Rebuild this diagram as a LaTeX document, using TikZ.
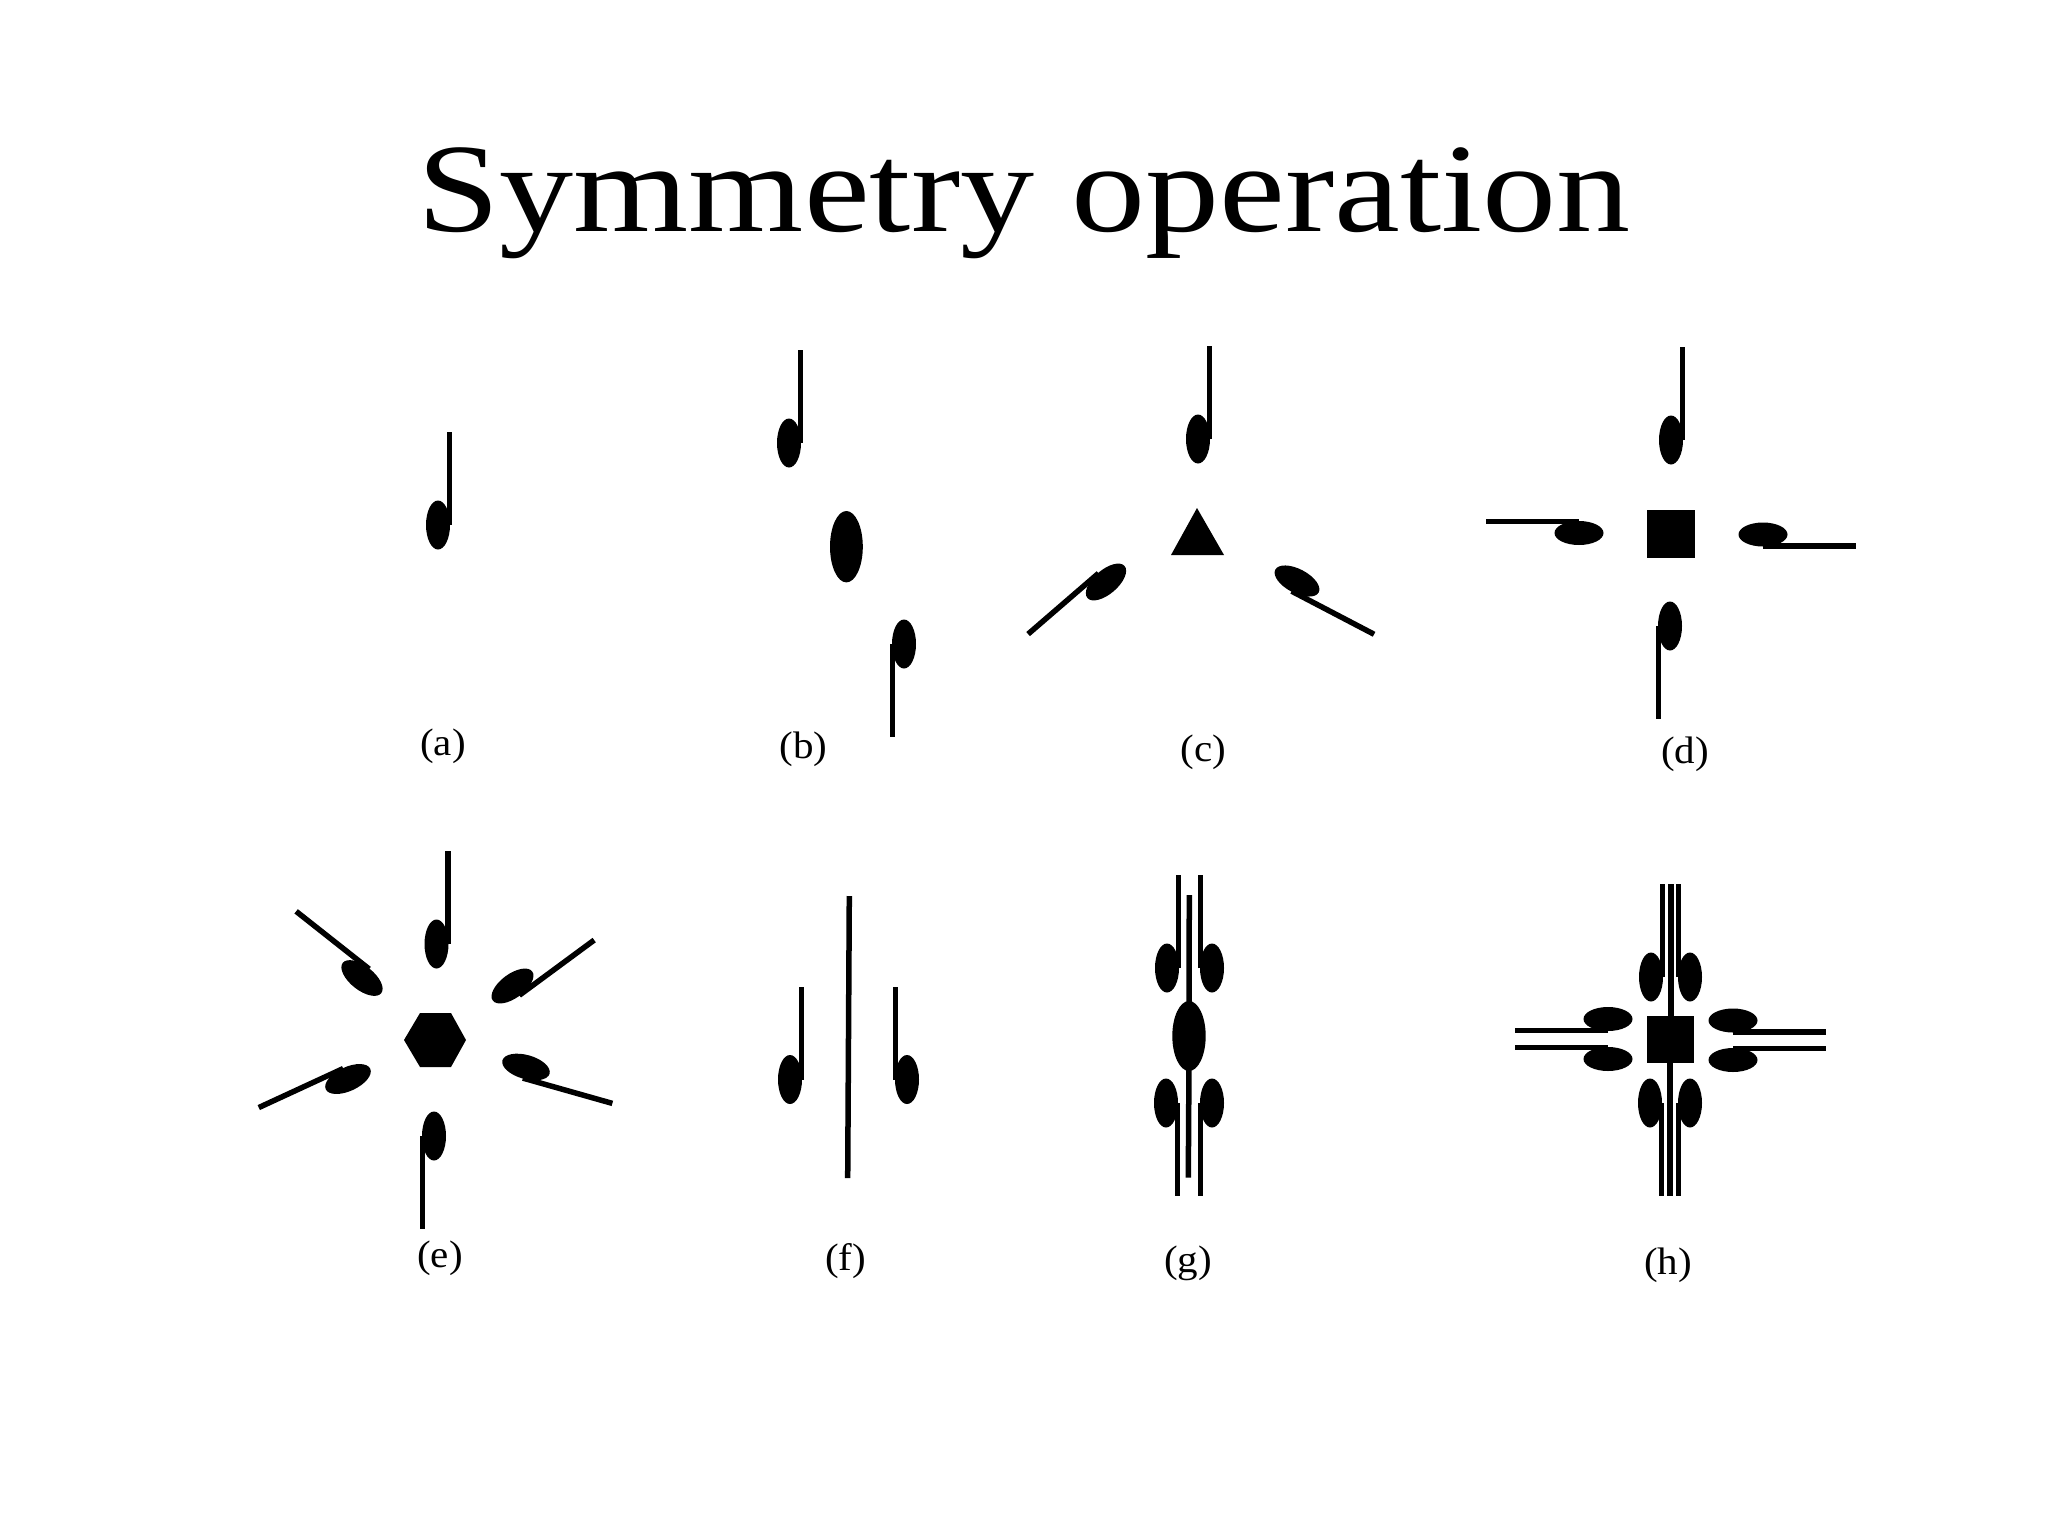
\documentclass[tikz,border=0pt]{standalone}
\usepackage{fontspec}
\setmainfont{Liberation Serif}
\begin{document}
\begin{tikzpicture}[x=0.01cm, y=-0.01cm,
    stem/.style={line width=0.055cm},
    label/.style={xscale=1.07, font=\fontsize{10.9}{12}\selectfont}]
\useasboundingbox (0,0) rectangle (2048,1536);
\node[anchor=base, xscale=1.17, font=\fontsize{36}{40}\selectfont] (title) at (1024,231) {Symmetry operation};
% head x, head y, rotation, mirror
\foreach \cx/\cy/\ang/\flip in {
  438/525/0/1,
  789/443/0/1, 904/644/180/1,
  1198/439/0/1, 1106/582/130.8/1, 1297/581/-117.6/1,
  1671/440/0/1, 1579/533/90/1, 1763/534.5/-90/1, 1670/626/180/1,
  436.5/944/0/1, 512.5/986/-53.6/1, 526/1067/-105.8/1, 434/1136/180/1, 348/1079/114.8/1, 362/978/51.7/1,
  790/1079.5/0/1, 907/1079.5/0/-1,
  1167/968/0/1, 1212/968/0/-1, 1166/1103/180/-1, 1212/1103/180/1,
  1651/977/0/1, 1690/977/0/-1, 1650/1103/180/-1, 1690/1103/180/1,
  1608/1019/90/-1, 1608/1059/90/1, 1733/1020.5/-90/1, 1733/1060/-90/-1}
{
\begin{scope}[shift={(\cx,\cy)}, rotate=\ang, xscale=\flip]
\fill (0,0) ellipse [x radius=12, y radius=24.5];
\draw[stem] (11.5,0)--(11.5,-93);
\end{scope}
}
% rotation centres
\fill (846.4,546.7) ellipse [x radius=16.4, y radius=35.7];
\fill (1197,508)--(1171,555)--(1224,555)--cycle;
\fill (1647,509.5) rectangle (1695,557.5);
\fill (404,1040)--(420,1013)--(451,1013)--(466,1040)--(451,1067)--(420,1067)--cycle;
\fill (1189,1036) ellipse [x radius=16.7, y radius=35];
\fill (1646.7,1016) rectangle (1694,1063.3);
% mirror lines
\draw[stem] (849.3,896)--(847.7,1178);
\draw[stem] (1189.3,895)--(1189,1010);
\draw[stem] (1189,1060)--(1188.3,1177.5);
\draw[stem] (1671,884)--(1671,1020);
\draw[stem] (1670,1060)--(1670,1196);
% captions
\foreach \name/\cx/\cy in {a/443/746.5, b/803.6/749, c/1203.7/752, d/1685/754,
  e/440/1258, f/845.5/1261, g/1188/1263, h/1668/1265}
  \node[label] (cap\name) at (\cx,\cy) {(\name)};
\end{tikzpicture}
\end{document}
